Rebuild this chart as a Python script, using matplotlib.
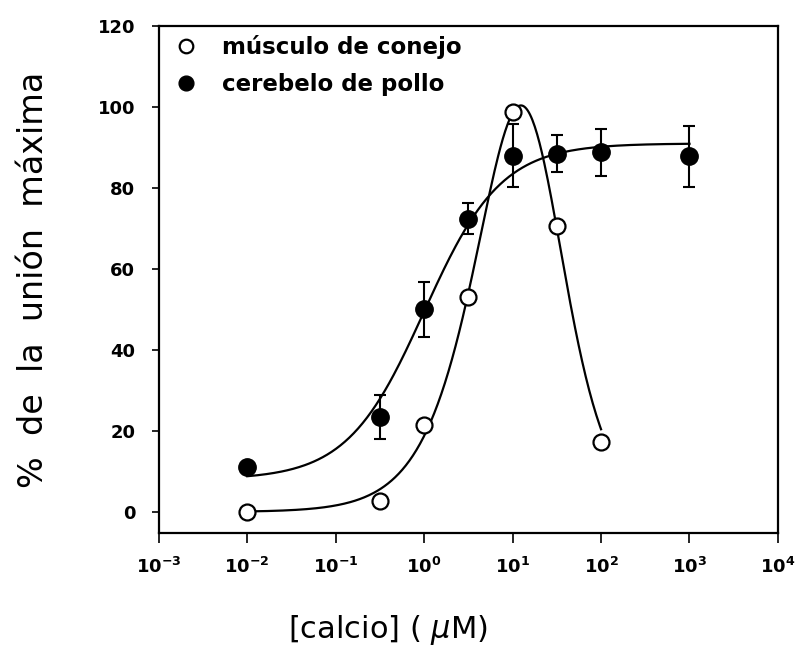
"""
Calcium dependence of binding: rabbit muscle vs chicken cerebellum.
"""
import numpy as np
import matplotlib
matplotlib.use("Agg")
import matplotlib.pyplot as plt

plt.rcParams["font.family"] = ["DejaVu Sans"]

# data
calcio = [0.01, 0.316, 1.0, 3.16, 10.0, 31.6, 100.0, 1000.0]
musculo = [0.0, 2.6, 21.5, 53.0, 98.7, 70.7, 17.2]          # open circles, first 7 x
cerebelo = [11.0, 23.4, 50.0, 72.4, 88.0, 88.5, 88.8, 87.8]  # filled circles
cerebelo_err = [0.0, 5.4, 6.8, 3.8, 7.8, 4.6, 5.8, 7.6]
series_names = ["músculo de conejo", "cerebelo de pollo"]

# fitted curves (parameters estimated from the drawn lines)
# musculo: bell = A * rise * fall (Hill terms)
mus_A, mus_K1, mus_n1, mus_K2, mus_n2 = 290.0, 11.2, 1.1, 19.05, 1.5
# cerebelo: Hill sigmoid
cer_bottom, cer_top, cer_ec50, cer_n = 8.0, 91.0, 1.0, 1.0

x_ticks = [1e-3, 1e-2, 1e-1, 1e0, 1e1, 1e2, 1e3, 1e4]
x_tick_labels = [r"$\mathbf{10^{-3}}$", r"$\mathbf{10^{-2}}$", r"$\mathbf{10^{-1}}$",
                 r"$\mathbf{10^{0}}$", r"$\mathbf{10^{1}}$", r"$\mathbf{10^{2}}$",
                 r"$\mathbf{10^{3}}$", r"$\mathbf{10^{4}}$"]
y_ticks = [0, 20, 40, 60, 80, 100, 120]


def bell(x):
    rise = 1.0 / (1.0 + (mus_K1 / x) ** mus_n1)
    fall = 1.0 / (1.0 + (x / mus_K2) ** mus_n2)
    return mus_A * rise * fall


def hill(x):
    return cer_bottom + (cer_top - cer_bottom) / (1.0 + (cer_ec50 / x) ** cer_n)


fig = plt.figure(figsize=(8.02, 6.52), dpi=100)
ax = fig.add_axes([0.198, 0.1825, 0.772, 0.7776])

xs_m = np.logspace(np.log10(calcio[0]), np.log10(calcio[6]), 300)
xs_c = np.logspace(np.log10(calcio[0]), np.log10(calcio[-1]), 300)
ax.plot(xs_m, bell(xs_m), color="black", lw=1.6, zorder=2)
ax.plot(xs_c, hill(xs_c), color="black", lw=1.6, zorder=2)

h_open, = ax.plot(calcio[:7], musculo, "o", ms=11.5, mfc="white", mec="black",
                  mew=1.6, ls="none", zorder=4)
eb = ax.errorbar(calcio, cerebelo, yerr=cerebelo_err, fmt="o", ms=12.5,
                 color="black", ecolor="black", elinewidth=1.5, capsize=4,
                 capthick=1.5, zorder=3)

ax.set_xscale("log")
ax.set_xlim(1e-3, 1e4)
ax.set_ylim(-5.2, 120)
ax.set_xticks(x_ticks)
ax.set_xticklabels(x_tick_labels)
ax.xaxis.set_minor_locator(matplotlib.ticker.NullLocator())
ax.set_yticks(y_ticks)
ax.set_yticklabels([str(v) for v in y_ticks], fontweight="bold")
ax.tick_params(axis="x", direction="out", length=7, width=1.2, pad=10, labelsize=13)
ax.tick_params(axis="y", direction="out", length=5, width=1.2, pad=12, labelsize=13)
for s in ax.spines.values():
    s.set_linewidth(1.6)

ax.set_xlabel("[calcio] ( $\\mu$M)", fontsize=22, labelpad=26, x=0.37)
ax.set_ylabel("%  de  la  unión  máxima", fontsize=24, labelpad=34)

leg = ax.legend([h_open, eb.lines[0]], series_names, loc="upper left", frameon=False,
                prop={"size": 16.5, "weight": "bold"}, handletextpad=1.1,
                handlelength=1.0, labelspacing=0.62, borderaxespad=0.0,
                borderpad=0.0, bbox_to_anchor=(0.025, 0.982), markerscale=0.85)

fig.savefig("out.png", dpi=100, facecolor="white")
